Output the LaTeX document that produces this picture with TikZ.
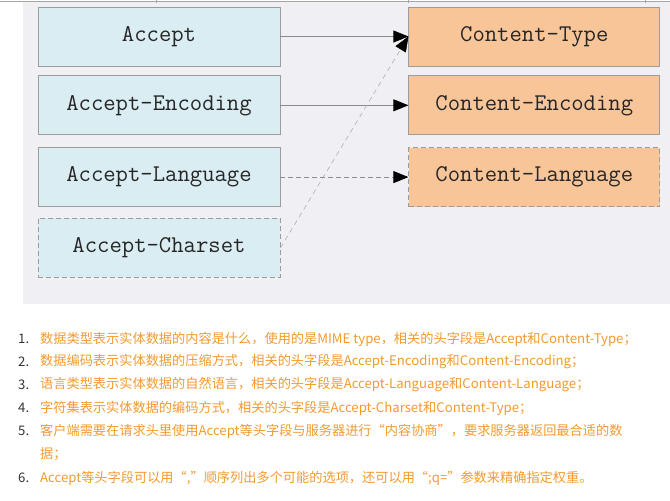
\documentclass[tikz,border=0pt]{standalone}
\usepackage{fontspec}
\newfontfamily\cjk{Noto Sans CJK SC}
\usetikzlibrary{arrows.meta, positioning}

\definecolor{panelgray}{HTML}{F0EFF4}
\definecolor{acceptblue}{HTML}{DAEDF2}
\definecolor{contentorange}{HTML}{F8C599}
\definecolor{boxline}{HTML}{9C9C9C}
\definecolor{noteorange}{HTML}{F29A2E}
\definecolor{numgray}{HTML}{333333}

\begin{document}
\begin{tikzpicture}[
  x=1pt, y=-1pt,
  node distance=9pt and 128pt,
  hdr/.style={draw=boxline, line width=0.8pt, minimum height=59pt, inner sep=0pt,
              text=black!85, font=\fontsize{24}{24}\selectfont\ttfamily},
  req/.style={hdr, fill=acceptblue, minimum width=242pt},
  resp/.style={hdr, fill=contentorange, minimum width=251pt},
  opt/.style={dash pattern=on 5pt off 3pt},
  arrow/.style={-{Triangle[length=15pt, width=12pt, color=black, fill=black]}, draw=gray!90, line width=0.7pt},
  num/.style={anchor=west, inner sep=0pt, text=numgray, font=\fontsize{13.2}{13.2}\selectfont\cjk},
  note/.style={anchor=west, inner sep=0pt, text=noteorange, font=\fontsize{13.2}{13.2}\selectfont\cjk},
]
\useasboundingbox (0,0) rectangle (670,501);

% background panel
\fill[panelgray] (23,2) rectangle (670,304);
\draw[gray!70, line width=0.8pt] (0,1) -- (670,1);
\foreach \x in {156,408,645}
  \draw[gray!70, line width=0.6pt] (\x,0) -- (\x,2.5);

% request headers
\node[req] (accept) at (159,36.5) {Accept};
\node[req, below=9pt of accept] (acceptenc) {Accept-Encoding};
\node[req, below=12pt of acceptenc] (acceptlang) {Accept-Language};
\node[req, opt, below=11pt of acceptlang] (acceptchar) {Accept-Charset};

% entity headers
\node[resp, right=128pt of accept.east, anchor=west] (ctype) {Content-Type};
\node[resp, right=128pt of acceptenc.east, anchor=west] (cenc) {Content-Encoding};
\node[resp, opt, right=128pt of acceptlang.east, anchor=west] (clang) {Content-Language};

% mappings
\draw[arrow] (accept) -- (ctype);
\draw[arrow] (acceptenc) -- (cenc);
\draw[arrow, opt] (acceptlang) -- (clang);
\draw[arrow, draw=gray!70, line width=0.5pt, dash pattern=on 5pt off 4pt] (acceptchar.east) -- (ctype.west);

% notes
\foreach \i/\y in {1/339, 2/362, 3/385, 4/408, 5/431, 6/478}
  \node[num] (n\i) at (18,\y) {\i.};
\node[note] (t1) at (40,339) {数据类型表示实体数据的内容是什么，使用的是MIME type，相关的头字段是Accept和Content-Type；};
\node[note] (t2) at (40,362) {数据编码表示实体数据的压缩方式，相关的头字段是Accept-Encoding和Content-Encoding；};
\node[note] (t3) at (40,385) {语言类型表示实体数据的自然语言，相关的头字段是Accept-Language和Content-Language；};
\node[note] (t4) at (40,408) {字符集表示实体数据的编码方式，相关的头字段是Accept-Charset和Content-Type；};
\node[note] (t5) at (40,431) {客户端需要在请求头里使用Accept等头字段与服务器进行“内容协商”，要求服务器返回最合适的数};
\node[note] (t5b) at (40,454) {据；};
\node[note] (t6) at (40,478) {Accept等头字段可以用“,”顺序列出多个可能的选项，还可以用“;q=”参数来精确指定权重。};
\end{tikzpicture}
\end{document}
